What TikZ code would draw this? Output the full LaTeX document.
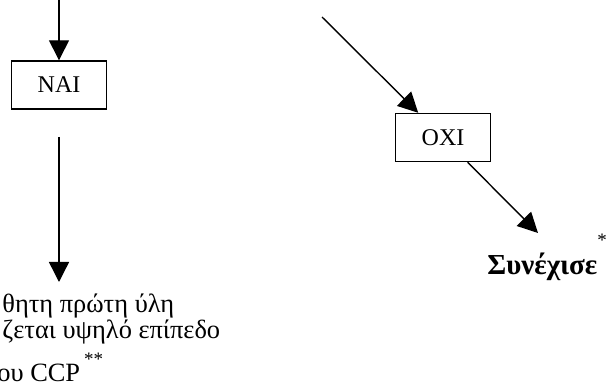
\documentclass[tikz,border=0pt]{standalone}
\usepackage{fontspec}
\setmainfont{Liberation Serif}
\usetikzlibrary{arrows.meta}

\tikzset{
 answer/.style={draw, line width=.7pt, minimum width=47.5pt, minimum height=24pt, inner sep=0pt, font=\fontsize{12}{14}\selectfont},
 flow/.style={line width=.7pt, -{Triangle[width=10pt,length=10pt]}},
 line/.style={anchor=base west, inner sep=0pt, font=\fontsize{13.2}{15}\selectfont},
}

\begin{document}
\begin{tikzpicture}[x=.5pt,y=-.5pt]
\useasboundingbox (0,0) rectangle (606,385);
% left branch
\node[answer] (nai) at (59,85) {NAI};
\coordinate (naiIn) at (59,-4);
\coordinate (naiOut) at (59,137);
\coordinate (naiEnd) at (59,282);
\draw[flow] (naiIn) -- (nai);
\draw[flow] (naiOut) -- (naiEnd);
\node[line] (txtA) at (2,313) {θητη πρώτη ύλη};
\node[line] (txtB) at (2,338) {ζεται υψηλό επίπεδο};
\node[line] (txtC) at (-3,381) {ου CCP\hspace{2pt}\raisebox{8pt}{\fontsize{9.5}{9.5}\selectfont **}};
% right branch
\node[answer] (oxi) at (443,137.5) {OXI};
\coordinate (oxiIn) at (322,17);
\coordinate (oxiEnd) at (538,233);
\draw[flow] (oxiIn) -- (oxi);
\draw[flow] (oxi) -- (oxiEnd);
\node[line, font=\bfseries\fontsize{14.5}{16}\selectfont] (go) at (487,275) {Συνέχισε\rlap{\raisebox{14pt}{\normalfont\fontsize{9.5}{9.5}\selectfont *}}};
\end{tikzpicture}
\end{document}
